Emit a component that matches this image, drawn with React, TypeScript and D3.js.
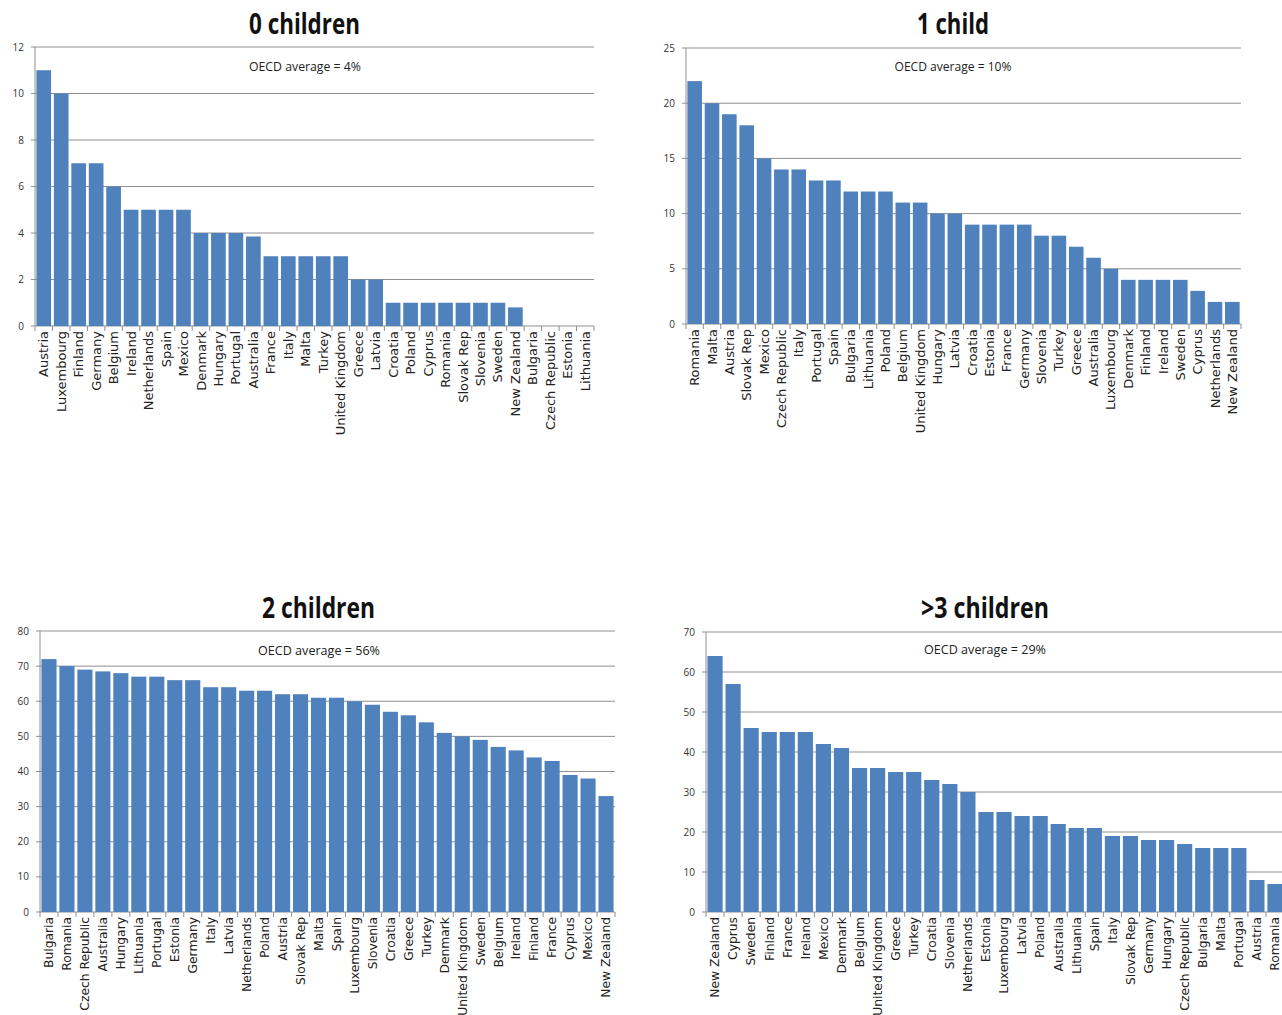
import React from 'react';
import * as d3 from 'd3';

const countries0 = ["Austria","Luxembourg","Finland","Germany","Belgium","Ireland","Netherlands","Spain","Mexico","Denmark","Hungary","Portugal","Australia","France","Italy","Malta","Turkey","United Kingdom","Greece","Latvia","Croatia","Poland","Cyprus","Romania","Slovak Rep","Slovenia","Sweden","New Zealand","Bulgaria","Czech Republic","Estonia","Lithuania"];
const values0 = [11,10,7,7,6,5,5,5,5,4,4,4,3.85,3,3,3,3,3,2,2,1,1,1,1,1,1,1,0.8,0,0,0,0];

const countries1 = ["Romania","Malta","Austria","Slovak Rep","Mexico","Czech Republic","Italy","Portugal","Spain","Bulgaria","Lithuania","Poland","Belgium","United Kingdom","Hungary","Latvia","Croatia","Estonia","France","Germany","Slovenia","Turkey","Greece","Australia","Luxembourg","Denmark","Finland","Ireland","Sweden","Cyprus","Netherlands","New Zealand"];
const values1 = [22,20,19,18,15,14,14,13,13,12,12,12,11,11,10,10,9,9,9,9,8,8,7,6,5,4,4,4,4,3,2,2];

const countries2 = ["Bulgaria","Romania","Czech Republic","Australia","Hungary","Lithuania","Portugal","Estonia","Germany","Italy","Latvia","Netherlands","Poland","Austria","Slovak Rep","Malta","Spain","Luxembourg","Slovenia","Croatia","Greece","Turkey","Denmark","United Kingdom","Sweden","Belgium","Ireland","Finland","France","Cyprus","Mexico","New Zealand"];
const values2 = [72,70,69,68.5,68,67,67,66,66,64,64,63,63,62,62,61,61,60,59,57,56,54,51,50,49,47,46,44,43,39,38,33];

const countries3 = ["New Zealand","Cyprus","Sweden","Finland","France","Ireland","Mexico","Denmark","Belgium","United Kingdom","Greece","Turkey","Croatia","Slovenia","Netherlands","Estonia","Luxembourg","Latvia","Poland","Australia","Lithuania","Spain","Italy","Slovak Rep","Germany","Hungary","Czech Republic","Bulgaria","Malta","Portugal","Austria","Romania"];
const values3 = [64,57,46,45,45,45,42,41,36,36,35,35,33,32,30,25,25,24,24,22,21,21,19,19,18,18,17,16,16,16,8,7];

const titles = ["0 children", "1 child", "2 children", ">3 children"];
const oecdLabels = ["OECD average = 4%", "OECD average = 10%", "OECD average = 56%", "OECD average = 29%"];
const yMaxes = [12, 25, 80, 70];
const yTickSteps = [2, 5, 10, 10];

const BAR = "#4F81BD";
const GRID = "#8f8f8f";

type PanelProps = {
  countries: string[]; values: number[]; title: string; oecd: string;
  yMax: number; step: number;
  left: number; right: number; top: number; bottom: number;
  titleX: number; titleY: number; titleW: number;
  oecdX: number; oecdY: number; oecdW: number; labelSize: number;
};

function Panel(p: PanelProps) {
  const x = d3.scaleBand<string>().domain(p.countries).range([p.left, p.right]).paddingInner(0.16).paddingOuter(0.08);
  const y = d3.scaleLinear().domain([0, p.yMax]).range([p.bottom, p.top]);
  const ticks = d3.range(0, p.yMax + 0.001, p.step);
  const step = x.step();
  const bounds = d3.range(0, p.countries.length + 1).map(i => p.left + i * step);
  return (
    <g>
      <text x={p.titleX} y={p.titleY} textAnchor="middle" fontFamily="Open Sans, sans-serif" fontWeight={700} fontSize={28}
        textLength={p.titleW} lengthAdjust="spacingAndGlyphs" fill="#111">{p.title}</text>
      {ticks.map(t => (
        <g key={t}>
          <line x1={p.left - 4} x2={p.right} y1={y(t)} y2={y(t)} stroke={GRID} strokeWidth={1} />
          <text x={p.left - 11} y={y(t)} dy="0.35em" textAnchor="end" fontFamily="Open Sans, sans-serif" fontSize={10} fill="#333">{t}</text>
        </g>
      ))}
      <line x1={p.left} x2={p.left} y1={p.top} y2={p.bottom} stroke={GRID} strokeWidth={1} />
      <text x={p.oecdX} y={p.oecdY} textAnchor="middle" fontFamily="Open Sans, sans-serif" fontSize={13}
        textLength={p.oecdW} lengthAdjust="spacingAndGlyphs" fill="#222">{p.oecd}</text>
      {p.countries.map((c, i) => (
        <rect key={c} x={x(c)} y={y(p.values[i])} width={x.bandwidth()} height={p.bottom - y(p.values[i])} fill={BAR} />
      ))}
      {bounds.map((b, i) => (
        <line key={i} x1={b} x2={b} y1={p.bottom} y2={p.bottom + 5} stroke={GRID} strokeWidth={1} />
      ))}
      {p.countries.map(c => (
        <text key={c} transform={`translate(${(x(c) as number) + x.bandwidth() / 2},${p.bottom + 5}) rotate(-90)`}
          dy="0.35em" textAnchor="end" fontFamily="DejaVu Sans, sans-serif" fontSize={p.labelSize} fill="#222">{c}</text>
      ))}
    </g>
  );
}

export default function App() {
  return (
    <svg width={1282} height={1015} style={{ position: 'absolute', left: 0, top: 0, background: '#fff' }}>
      <Panel countries={countries0} values={values0} title={titles[0]} oecd={oecdLabels[0]} yMax={yMaxes[0]} step={yTickSteps[0]}
        left={35} right={594} top={47} bottom={326} titleX={304.5} titleY={34} titleW={111} oecdX={305} oecdY={71} oecdW={112} labelSize={13} />
      <Panel countries={countries1} values={values1} title={titles[1]} oecd={oecdLabels[1]} yMax={yMaxes[1]} step={yTickSteps[1]}
        left={686} right={1241} top={48} bottom={324} titleX={953} titleY={34} titleW={72} oecdX={953} oecdY={71} oecdW={117} labelSize={13} />
      <Panel countries={countries2} values={values2} title={titles[2]} oecd={oecdLabels[2]} yMax={yMaxes[2]} step={yTickSteps[2]}
        left={40} right={615} top={631} bottom={912} titleX={318.5} titleY={618} titleW={113} oecdX={319} oecdY={655} oecdW={122} labelSize={12.3} />
      <Panel countries={countries3} values={values3} title={titles[3]} oecd={oecdLabels[3]} yMax={yMaxes[3]} step={yTickSteps[3]}
        left={706} right={1284} top={632} bottom={912} titleX={985} titleY={618} titleW={128} oecdX={985} oecdY={654} oecdW={122} labelSize={12.3} />
    </svg>
  );
}
